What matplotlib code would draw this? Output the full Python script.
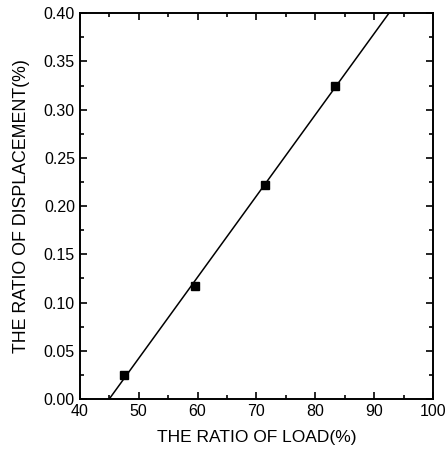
import numpy as np
import matplotlib
matplotlib.use('Agg')
import matplotlib.pyplot as plt
from matplotlib.ticker import MultipleLocator

plt.rcParams['font.family'] = ['Liberation Sans', 'DejaVu Sans']

# data
load = [47.5, 59.5, 71.5, 83.3]
disp = [0.025, 0.117, 0.222, 0.325]

xticks = [40, 50, 60, 70, 80, 90, 100]
yticks = [0.00, 0.05, 0.10, 0.15, 0.20, 0.25, 0.30, 0.35, 0.40]

# linear fit through the points
k, b = np.polyfit(load, disp, 1)
xl = np.array([(0 - b) / k, (0.40 - b) / k])

fig = plt.figure(figsize=(4.46, 4.53), dpi=100)
ax = fig.add_axes([0.179, 0.119, 0.792, 0.852])

ax.plot(xl, k * xl + b, color='black', lw=1.1)
ax.plot(load, disp, 's', color='black', ms=6)

ax.set_xlim(40, 100)
ax.set_ylim(0, 0.40)
ax.set_xticks(xticks)
ax.set_yticks(yticks)
ax.set_yticklabels(['%.2f' % v for v in yticks])
ax.xaxis.set_minor_locator(MultipleLocator(5))
ax.yaxis.set_minor_locator(MultipleLocator(0.025))
ax.tick_params(which='both', direction='in', top=True, right=True, labelsize=11.5, width=1.2)
ax.tick_params(which='major', length=5)
ax.tick_params(which='minor', length=3)
for s in ax.spines.values():
    s.set_linewidth(1.4)

ax.set_xlabel('THE RATIO OF LOAD(%)', fontsize=12.5, labelpad=8)
ax.set_ylabel('THE RATIO OF DISPLACEMENT(%)', fontsize=12.8, labelpad=10)

fig.savefig('out.png', dpi=100)
